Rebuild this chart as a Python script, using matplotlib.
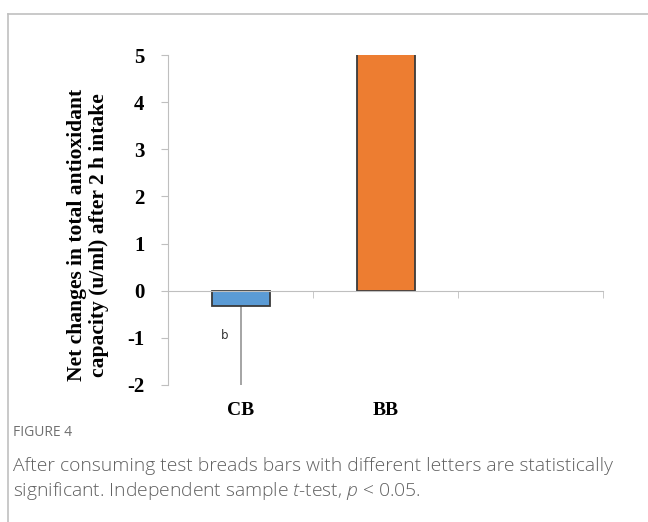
import matplotlib.pyplot as plt
from matplotlib.lines import Line2D

categories = ['CB', 'BB']
values = [-0.32, 5.4]
err_low = [1.9, 0.0]
err_high = [0.0, 0.6]
letters = ['b', '']
bar_colors = ['#5B9BD5', '#ED7D31']

plt.rcParams['mathtext.fontset'] = 'custom'
plt.rcParams['mathtext.it'] = 'Open Sans:italic:light'
plt.rcParams['mathtext.rm'] = 'Open Sans:light'
plt.rcParams['axes.unicode_minus'] = False

fig = plt.figure(figsize=(6.48, 5.22), dpi=100)
ax = fig.add_axes([0.2593, 0.2625, 0.6713, 0.6321])

ax.spines['top'].set_visible(False)
ax.spines['right'].set_visible(False)
ax.spines['left'].set_color('#bfbfbf')
ax.spines['bottom'].set_color('#bfbfbf')
ax.spines['bottom'].set_position(('data', 0))

x = list(range(len(categories)))
ax.bar(x, values, width=0.4, color=bar_colors, edgecolor='#3a3a3a', linewidth=1.3, zorder=2)
ax.errorbar(x, values, yerr=[err_low, err_high], fmt='none', ecolor='#8c8c8c',
            elinewidth=1.1, capsize=0, zorder=1)
for xi, lab in zip(x, letters):
    if lab:
        ax.text(xi - 0.11, -0.95, lab, fontsize=8.5, color='#333333',
                family='DejaVu Sans', ha='center', va='center')

ax.set_xlim(-0.5, 2.5)
ax.set_ylim(-2, 5)
ax.set_yticks(range(-2, 6))
ax.tick_params(axis='y', length=5, color='#bfbfbf', labelsize=15, pad=12)

ax.set_xticks(x)
ax.set_xticklabels(categories)
ax.set_xticks([0.5, 1.5, 2.5], minor=True)
ax.tick_params(axis='x', which='major', length=0, pad=80, labelsize=14)
ax.tick_params(axis='x', which='minor', length=5, color='#bfbfbf', direction='out')

for t in ax.get_yticklabels() + ax.get_xticklabels():
    t.set_fontfamily('Liberation Serif')
    t.set_fontweight('bold')

ax.set_ylabel('Net changes in total antioxidant\ncapacity (u/ml) after 2 h intake',
              fontfamily='Liberation Serif', fontweight='bold', fontsize=15.5,
              linespacing=1.15, va='center')
ax.yaxis.set_label_coords(-0.184, 0.455)

# outer frame
fig.add_artist(Line2D([8 / 648, 1], [1 - 14 / 522, 1 - 14 / 522], color='#c0c0c0', lw=1.2))
fig.add_artist(Line2D([8 / 648, 8 / 648], [0, 1 - 14 / 522], color='#c0c0c0', lw=1.2))

fig.text(13 / 648, 1 - 432 / 522, 'FIGURE 4', fontsize=10, color='#707070',
         family='Open Sans', va='center')
fig.text(13 / 648, 1 - 466 / 522,
         'After consuming test breads bars with different letters are statistically',
         fontsize=13.9, color='#606060', family='Open Sans', fontweight='light', va='center')
fig.text(13 / 648, 1 - 491 / 522,
         r'significant. Independent sample $t$-test, $p$ < 0.05.',
         fontsize=13.9, color='#606060', family='Open Sans', fontweight='light', va='center')

fig.savefig('out.png', dpi=100)
